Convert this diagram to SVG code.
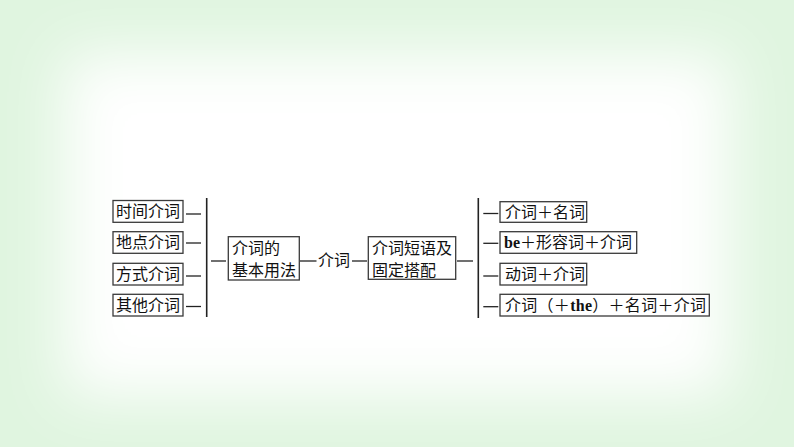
<svg xmlns="http://www.w3.org/2000/svg" width="794" height="447" viewBox="0 0 794 447">
  <defs>
    <filter id="soft" x="-30%" y="-30%" width="160%" height="160%">
      <feGaussianBlur stdDeviation="30"/>
    </filter>
  </defs>
  <style>
    .box { fill: #ffffff; stroke: #3a3a3a; stroke-width: 1.3; }
    .t { font-family: "Liberation Serif", "Noto Sans CJK SC", serif; font-size: 16px; fill: #111111; }
    .b { font-weight: bold; }
    .ln { stroke: #222222; stroke-width: 1.3; fill: none; }
    .vl { stroke: #222222; stroke-width: 1.6; fill: none; }
  </style>
  <rect x="0" y="0" width="794" height="447" fill="#e0f5e0"/>
  <rect x="65" y="55" width="664" height="340" fill="#ffffff" filter="url(#soft)"/>

  <g id="connectors">
    <line class="ln" x1="186" y1="214" x2="201" y2="214"/>
    <line class="ln" x1="186" y1="243" x2="201" y2="243"/>
    <line class="ln" x1="186" y1="276" x2="201" y2="276"/>
    <line class="ln" x1="186" y1="306.5" x2="201" y2="306.5"/>
    <line class="vl" x1="206.7" y1="198" x2="206.7" y2="317"/>
    <line class="ln" x1="211" y1="261" x2="226" y2="261"/>
    <line class="ln" x1="300" y1="261" x2="316.5" y2="261"/>
    <line class="ln" x1="352" y1="261" x2="367" y2="261"/>
    <line class="ln" x1="457" y1="261" x2="473" y2="261"/>
    <line class="vl" x1="478.3" y1="198" x2="478.3" y2="318"/>
    <line class="ln" x1="483.3" y1="213.5" x2="498.3" y2="213.5"/>
    <line class="ln" x1="483.3" y1="243.3" x2="498.3" y2="243.3"/>
    <line class="ln" x1="483.3" y1="276" x2="498.3" y2="276"/>
    <line class="ln" x1="483.3" y1="306.7" x2="498.3" y2="306.7"/>
  </g>

  <g id="n-shijian">
    <rect class="box" x="113" y="200.5" width="70" height="21.8"/>
    <text class="t" x="116" y="217">时间介词</text>
  </g>
  <g id="n-didian">
    <rect class="box" x="113" y="231.7" width="70" height="21.6"/>
    <text class="t" x="116" y="248">地点介词</text>
  </g>
  <g id="n-fangshi">
    <rect class="box" x="113" y="263.3" width="70" height="21.7"/>
    <text class="t" x="116" y="279.5">方式介词</text>
  </g>
  <g id="n-qita">
    <rect class="box" x="113" y="294.3" width="70" height="21.7"/>
    <text class="t" x="116" y="310.5">其他介词</text>
  </g>

  <g id="n-jiben">
    <rect class="box" x="228.3" y="236.7" width="71" height="43.3"/>
    <text class="t" x="232" y="254">介词的</text>
    <text class="t" x="232" y="276">基本用法</text>
  </g>

  <g id="n-jieci">
    <text class="t" x="318" y="266">介词</text>
  </g>

  <g id="n-duanyu">
    <rect class="box" x="368.3" y="236.7" width="87.4" height="42.6"/>
    <text class="t" x="372" y="254">介词短语及</text>
    <text class="t" x="372" y="276">固定搭配</text>
  </g>

  <g id="n-r1">
    <rect class="box" x="500" y="201.7" width="86.7" height="20.6"/>
    <text class="t" x="505" y="217.5">介词＋名词</text>
  </g>
  <g id="n-r2">
    <rect class="box" x="500" y="231.7" width="136.7" height="21.6"/>
    <text class="t" x="504" y="248"><tspan class="b">be</tspan>＋形容词＋介词</text>
  </g>
  <g id="n-r3">
    <rect class="box" x="500" y="263.3" width="86.7" height="21.7"/>
    <text class="t" x="505" y="279.5">动词＋介词</text>
  </g>
  <g id="n-r4">
    <rect class="box" x="500" y="294.3" width="209.3" height="21.7"/>
    <text class="t" x="505" y="310.5" textLength="201" lengthAdjust="spacing">介词（＋<tspan class="b">the</tspan>）＋名词＋介词</text>
  </g>
</svg>
